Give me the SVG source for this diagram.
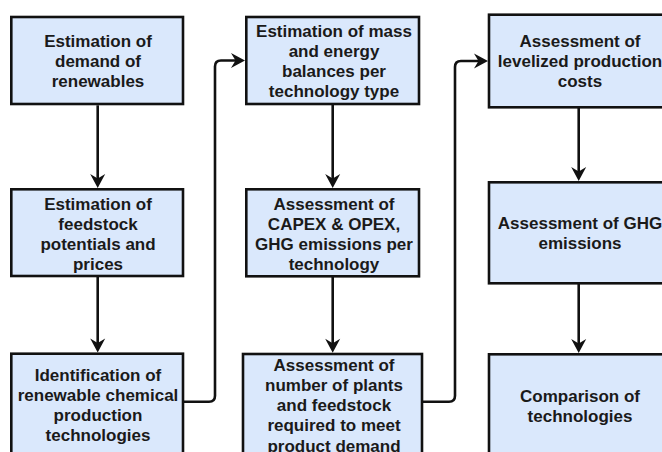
<svg xmlns="http://www.w3.org/2000/svg" width="662" height="452" viewBox="0 0 662 452">
<style>
.box{fill:#dae8fc;stroke:#111;stroke-width:2.6}
.lbl{font-family:"Liberation Sans",Arial,sans-serif;font-size:17px;font-weight:bold;fill:#1a1a1a;text-anchor:middle}
.edge{fill:none;stroke:#111;stroke-width:2.6;marker-end:url(#arr)}
</style>
<defs>
<marker id="arr" viewBox="-15 -8 16 16" refX="-5" refY="0" markerWidth="16" markerHeight="16" markerUnits="userSpaceOnUse" orient="auto" overflow="visible">
<path d="M0,0 L-14,-7.5 L-9.5,0 L-14,7.5 Z" fill="#111"/>
</marker>
</defs>
<rect width="662" height="452" fill="#fff"/>
<g id="connectors">
<path class="edge" d="M97.7,105.3 V183"/>
<path class="edge" d="M97.7,276.5 V347.5"/>
<path class="edge" d="M332.7,104 V183"/>
<path class="edge" d="M332.7,276.3 V347.7"/>
<path class="edge" d="M578.7,107.3 V176"/>
<path class="edge" d="M578.7,283.3 V348"/>
<path class="edge" d="M183,401.7 H209 Q215,401.7 215,395.7 V66.5 Q215,60.5 221,60.5 H240"/>
<path class="edge" d="M422,401.7 H449 Q455,401.7 455,395.7 V67 Q455,61 461,61 H483"/>
</g>
<g id="n1"><rect class="box" x="11.3" y="17" width="171.7" height="87"/>
<text class="lbl"><tspan x="98" y="47">Estimation of</tspan><tspan x="98" y="67">demand of</tspan><tspan x="98" y="87">renewables</tspan></text></g>
<g id="n2"><rect class="box" x="11.3" y="189.3" width="171.7" height="86.7"/>
<text class="lbl"><tspan x="98" y="210">Estimation of</tspan><tspan x="98" y="230">feedstock</tspan><tspan x="98" y="250">potentials and</tspan><tspan x="98" y="270">prices</tspan></text></g>
<g id="n3"><rect class="box" x="11.3" y="353.7" width="171.7" height="110"/>
<text class="lbl"><tspan x="98" y="381">Identification of</tspan><tspan x="98" y="401">renewable chemical</tspan><tspan x="98" y="421">production</tspan><tspan x="98" y="441">technologies</tspan></text></g>
<g id="n4"><rect class="box" x="246.3" y="17" width="172.7" height="87"/>
<text class="lbl"><tspan x="334" y="37">Estimation of mass</tspan><tspan x="334" y="57">and energy</tspan><tspan x="334" y="77">balances per</tspan><tspan x="334" y="97">technology type</tspan></text></g>
<g id="n5"><rect class="box" x="246.3" y="189.3" width="172.7" height="87"/>
<text class="lbl"><tspan x="334" y="210">Assessment of</tspan><tspan x="334" y="230">CAPEX &amp; OPEX,</tspan><tspan x="334" y="250">GHG emissions per</tspan><tspan x="334" y="270">technology</tspan></text></g>
<g id="n6"><rect class="box" x="243" y="354" width="179" height="110"/>
<text class="lbl"><tspan x="334" y="371">Assessment of</tspan><tspan x="334" y="391">number of plants</tspan><tspan x="334" y="411">and feedstock</tspan><tspan x="334" y="431">required to meet</tspan><tspan x="334" y="451.5">product demand</tspan></text></g>
<g id="n7"><rect class="box" x="489" y="14.7" width="180" height="92.6"/>
<text class="lbl"><tspan x="580" y="47">Assessment of</tspan><tspan x="580" y="67">levelized production</tspan><tspan x="580" y="87">costs</tspan></text></g>
<g id="n8"><rect class="box" x="489" y="182.3" width="180" height="101"/>
<text class="lbl"><tspan x="580" y="229">Assessment of GHG</tspan><tspan x="580" y="249">emissions</tspan></text></g>
<g id="n9"><rect class="box" x="489" y="354.3" width="180" height="110"/>
<text class="lbl"><tspan x="580" y="402">Comparison of</tspan><tspan x="580" y="422">technologies</tspan></text></g>
</svg>
